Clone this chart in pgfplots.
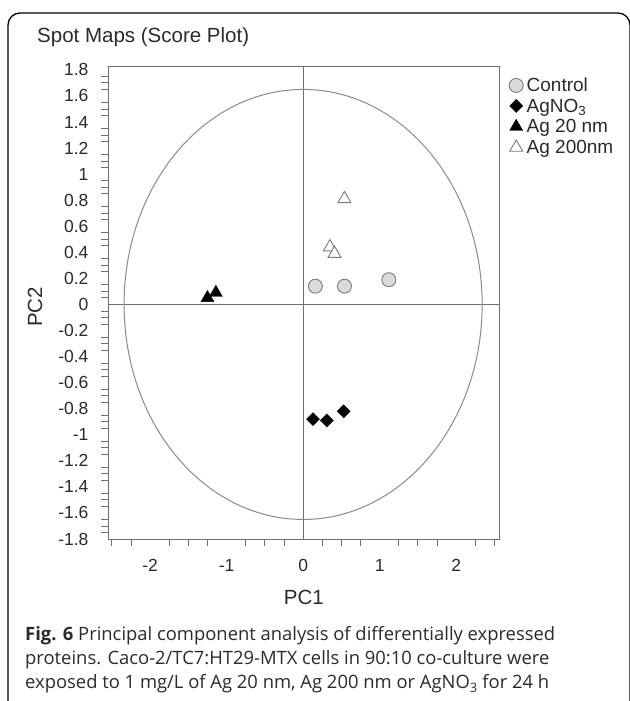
\documentclass[border=0pt]{standalone}
\usepackage{fontspec}
\setmainfont{Liberation Sans}
\newfontfamily\capfont{Open Sans}
\usepackage{pgfplots}
\pgfplotsset{compat=1.18}
\definecolor{axgray}{HTML}{6E6E6E}
\definecolor{ellgray}{HTML}{8A8A8A}
\definecolor{ctrlfill}{HTML}{DADADA}
\definecolor{ctrledge}{HTML}{7A7A7A}
\definecolor{txt}{HTML}{2A2A2A}
\begin{document}
\begin{tikzpicture}[x=1pt,y=1pt]
\useasboundingbox (0,0) rectangle (629,701);
\draw[line width=1.3pt, rounded corners=12pt] (8,0) -- (8,688) -- (630,688) -- (630,0);
\node[anchor=west, font=\fontsize{20.5}{24}\selectfont, text=txt, inner sep=0pt] at (37,664) {Spot Maps (Score Plot)};
\begin{axis}[
  at={(108pt,162pt)}, anchor=south west, scale only axis,
  width=391pt, height=473pt,
  xmin=-2.55, xmax=2.56, ymin=-1.8, ymax=1.83,
  axis line style={axgray, line width=0.9pt},
  xtick={-2,-1,0,1,2},
  ytick={-1.8,-1.6,-1.4,-1.2,-1,-0.8,-0.6,-0.4,-0.2,0,0.2,0.4,0.6,0.8,1,1.2,1.4,1.6,1.8},
  minor xtick={-2.5,-2.25,-1.75,-1.5,-1.25,-0.75,-0.5,-0.25,0.25,0.5,0.75,1.25,1.5,1.75,2.25,2.5},
  minor y tick num=3,
  major tick length=0pt, minor tick length=7pt,
  tick align=outside, tick pos=left,
  tick style={axgray, line width=0.9pt},
  /pgf/number format/assume math mode=true,
  ticklabel style={font=\fontsize{17.5}{20}\selectfont, text=txt},
  xticklabel style={yshift=-17pt},
  yticklabel style={xshift=-16pt},
  xlabel={PC1}, ylabel={PC2},
  label style={font=\fontsize{20.5}{24}\selectfont, text=txt},
  xlabel style={at={(axis description cs:0.501,-0.1226)}, anchor=center},
  ylabel style={at={(axis description cs:-0.1867,0.4905)}, anchor=center},
  legend style={at={(1.0256,0.9746)}, anchor=north west, draw=none, fill=none,
    font=\fontsize{19}{22}\selectfont, text=txt, inner sep=0pt, row sep=3pt,
    nodes={text height=13.5pt, text depth=4pt, inner sep=0pt},
    /tikz/every odd column/.append style={column sep=3.5pt}},
  legend cell align=left,
  legend image code/.code={\draw[#1, only marks] plot coordinates {(0pt,1.5pt)};},
]
\draw[axgray, line width=0.9pt] (axis cs:0,-1.8) -- (axis cs:0,1.83);
\draw[axgray, line width=0.9pt] (axis cs:-2.55,0) -- (axis cs:2.56,0);
\draw[ellgray, line width=1pt] (axis cs:0,0) ellipse [x radius=2.34, y radius=1.65];

\addplot[only marks, mark=*, mark size=7pt, mark options={fill=ctrlfill, draw=ctrledge, line width=0.9pt}]
  coordinates {(0.16,0.14) (0.54,0.14) (1.12,0.19)};
\addlegendentry{Control}
\addplot[only marks, mark=square*, mark size=4.6pt, mark options={rotate=45, fill=black, draw=black}]
  coordinates {(0.13,-0.88) (0.31,-0.89) (0.53,-0.82)};
\addlegendentry{AgNO\textsubscript{3}}
\addplot[only marks, mark=triangle*, mark size=7.5pt, mark options={fill=black, draw=black}]
  coordinates {(-1.25,0.05) (-1.14,0.09)};
\addlegendentry{Ag 20 nm}
\addplot[only marks, mark=triangle*, mark size=7.5pt, mark options={fill=white, draw=ctrledge, line width=0.9pt}]
  coordinates {(0.54,0.81) (0.35,0.44) (0.41,0.39)};
\addlegendentry{Ag 200nm}
\end{axis}
\begin{scope}[every node/.style={anchor=mid west, inner sep=0pt, text=txt, font=\capfont\fontsize{18.4}{21}\selectfont}]
\node at (25,63) {{\bfseries Fig. 6} Principal component analysis of differentially expressed};
\node at (25,39) {proteins. Caco-2/TC7:HT29-MTX cells in 90:10 co-culture were};
\node at (25,15) {exposed to 1 mg/L of Ag 20 nm, Ag 200 nm or AgNO\textsubscript{3} for 24 h};
\end{scope}
\end{tikzpicture}
\end{document}
